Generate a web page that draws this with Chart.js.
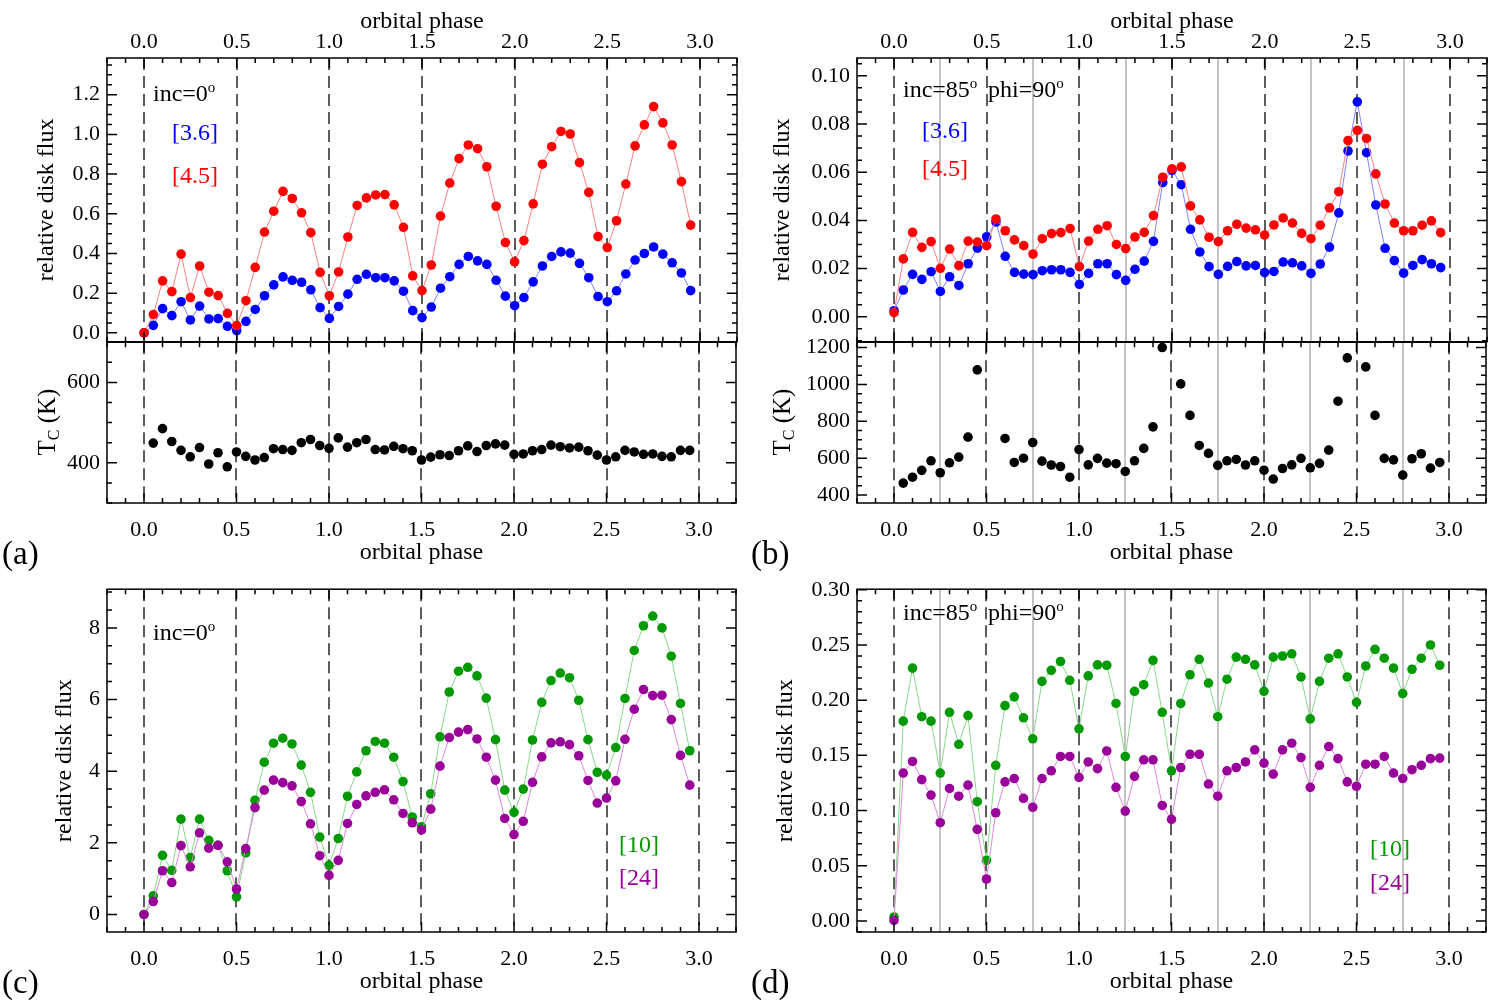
<!DOCTYPE html>
<html>
<head>
<meta charset="utf-8">
<script src="https://cdn.jsdelivr.net/npm/chart.js@4.4.1/dist/chart.umd.min.js"></script>
<style>
  body { margin: 0; background: #fff; width: 1496px; height: 1000px; position: relative; overflow: hidden;
         font-family: 'Liberation Serif', 'Times New Roman', serif; }
  canvas { position: absolute; z-index: 1; }
  .txt { position: absolute; z-index: 2; font-size: 24px; line-height: 1; white-space: nowrap; transform: translateY(-50%); }
  .tag { position: absolute; z-index: 2; font-size: 33px; line-height: 1; transform: translateY(-50%); }
  .rot { position: absolute; z-index: 2; font-size: 25px; line-height: 1; white-space: nowrap; transform: translate(-50%, -50%) rotate(-90deg); }
  .sup { font-size: 15px; position: relative; top: -9px; }
  .sub { font-size: 16px; position: relative; top: 4px; }
</style>
</head>
<body>
<div class="txt" style="left:153px;top:93px">inc=0<span class="sup">o</span></div>
<div class="txt" style="left:172px;top:132px;color:#0000ff">[3.6]</div>
<div class="txt" style="left:172px;top:175px;color:#ff0000">[4.5]</div>
<div class="txt" style="left:903px;top:89px">inc=85<span class="sup">o</span></div>
<div class="txt" style="left:988px;top:89px">phi=90<span class="sup">o</span></div>
<div class="txt" style="left:922px;top:130px;color:#0000ff">[3.6]</div>
<div class="txt" style="left:922px;top:168px;color:#ff0000">[4.5]</div>
<div class="txt" style="left:153px;top:632px">inc=0<span class="sup">o</span></div>
<div class="txt" style="left:619px;top:844px;color:#009900">[10]</div>
<div class="txt" style="left:619px;top:877px;color:#990099">[24]</div>
<div class="txt" style="left:903px;top:612px">inc=85<span class="sup">o</span></div>
<div class="txt" style="left:988px;top:612px">phi=90<span class="sup">o</span></div>
<div class="txt" style="left:1370px;top:848px;color:#009900">[10]</div>
<div class="txt" style="left:1370px;top:882px;color:#990099">[24]</div>
<div class="rot" style="left:46px;top:422px">T<span class="sub">C</span> (K)</div>
<div class="rot" style="left:781px;top:422px">T<span class="sub">C</span> (K)</div>
<div class="tag" style="left:2px;top:553px">(a)</div>
<div class="tag" style="left:751px;top:553px">(b)</div>
<div class="tag" style="left:2px;top:982px">(c)</div>
<div class="tag" style="left:751px;top:982px">(d)</div>
<script>
// orbital phase of every sample
const phase = [0.00, 0.05, 0.10, 0.15, 0.20, 0.25, 0.30, 0.35, 0.40, 0.45,
  0.50, 0.55, 0.60, 0.65, 0.70, 0.75, 0.80, 0.85, 0.90, 0.95,
  1.00, 1.05, 1.10, 1.15, 1.20, 1.25, 1.30, 1.35, 1.40, 1.45,
  1.50, 1.55, 1.60, 1.65, 1.70, 1.75, 1.80, 1.85, 1.90, 1.95,
  2.00, 2.05, 2.10, 2.15, 2.20, 2.25, 2.30, 2.35, 2.40, 2.45,
  2.50, 2.55, 2.60, 2.65, 2.70, 2.75, 2.80, 2.85, 2.90, 2.95];

// reference lines
const halfPhases = [0, 0.5, 1.0, 1.5, 2.0, 2.5, 3.0];
const quarterPhases = [0.25, 0.75, 1.25, 1.75, 2.25, 2.75];

// (a) inc=0
const flux36a = [0.0, 0.038, 0.122, 0.087, 0.157, 0.065, 0.135, 0.07, 0.072, 0.033,
  0.012, 0.058, 0.118, 0.187, 0.242, 0.282, 0.265, 0.255, 0.217, 0.127,
  0.073, 0.133, 0.195, 0.27, 0.295, 0.278, 0.278, 0.262, 0.21, 0.112,
  0.077, 0.13, 0.225, 0.283, 0.345, 0.385, 0.363, 0.345, 0.265, 0.185,
  0.137, 0.178, 0.257, 0.337, 0.385, 0.408, 0.402, 0.35, 0.278, 0.183,
  0.157, 0.212, 0.297, 0.367, 0.4, 0.433, 0.397, 0.353, 0.302, 0.213];
const flux45a = [0.0, 0.092, 0.262, 0.208, 0.397, 0.178, 0.337, 0.205, 0.188, 0.098,
  0.037, 0.162, 0.33, 0.508, 0.613, 0.713, 0.677, 0.605, 0.505, 0.305,
  0.187, 0.307, 0.483, 0.642, 0.68, 0.695, 0.697, 0.645, 0.532, 0.287,
  0.213, 0.342, 0.588, 0.755, 0.878, 0.947, 0.928, 0.837, 0.638, 0.455,
  0.358, 0.465, 0.65, 0.85, 0.938, 1.015, 1.002, 0.858, 0.708, 0.485,
  0.43, 0.565, 0.75, 0.942, 1.048, 1.14, 1.058, 0.947, 0.762, 0.543];
const tempA = [null, 449, 485, 453, 431, 415, 438, 397, 425, 390,
  427, 416, 407, 413, 435, 433, 431, 450, 458, 443,
  436, 462, 439, 450, 458, 433, 432, 441, 435, 430,
  407, 414, 420, 418, 430, 442, 428, 443, 447, 444,
  421, 422, 430, 433, 444, 440, 437, 439, 430, 419,
  407, 415, 431, 427, 421, 422, 416, 415, 431, 431];

// (b) inc=85, phi=90
const flux36b = [0.0025, 0.0111, 0.0176, 0.0155, 0.0187, 0.0105, 0.0166, 0.013, 0.022, 0.0285,
  0.0332, 0.0393, 0.0251, 0.0184, 0.0177, 0.0175, 0.0191, 0.0195, 0.0195, 0.0184,
  0.0134, 0.018, 0.022, 0.022, 0.0175, 0.0151, 0.0197, 0.0231, 0.0313, 0.0557,
  0.0608, 0.0548, 0.0363, 0.0269, 0.0208, 0.0176, 0.0209, 0.0229, 0.0211, 0.0213,
  0.0183, 0.0188, 0.0227, 0.0224, 0.0211, 0.018, 0.0219, 0.0289, 0.0431, 0.0688,
  0.0892, 0.0681, 0.0464, 0.0284, 0.0233, 0.0181, 0.0213, 0.0237, 0.022, 0.0204];
const flux45b = [0.0017, 0.024, 0.035, 0.0288, 0.0312, 0.0201, 0.0281, 0.0212, 0.0314, 0.031,
  0.0295, 0.0406, 0.0357, 0.0319, 0.0295, 0.026, 0.0324, 0.0345, 0.0349, 0.0366,
  0.0208, 0.0314, 0.0363, 0.0378, 0.03, 0.0283, 0.0331, 0.035, 0.042, 0.0579,
  0.0614, 0.0622, 0.046, 0.0402, 0.033, 0.0312, 0.0357, 0.0384, 0.0368, 0.0361,
  0.0339, 0.0381, 0.041, 0.0389, 0.0346, 0.0324, 0.038, 0.0452, 0.0519, 0.0731,
  0.0774, 0.074, 0.0593, 0.0468, 0.0389, 0.0357, 0.0357, 0.038, 0.0398, 0.0349];
const tempB = [null, 465, 497, 534, 586, 521, 575, 606, 714, 1079,
  null, null, 707, 577, 600, 685, 584, 563, 555, 497,
  647, 564, 599, 573, 570, 528, 586, 653, 770, 1200,
  null, 1003, 832, 669, 626, 561, 586, 593, 563, 586,
  535, 487, 544, 564, 599, 548, 572, 644, 909, 1144,
  null, 1095, 832, 599, 591, 508, 597, 624, 546, 577];

// (c) inc=0, long wavelengths
const flux10c = [0, 0.52, 1.65, 1.23, 2.66, 1.59, 2.66, 2.07, 1.93, 1.22,
  0.49, 1.72, 3.19, 4.25, 4.78, 4.92, 4.76, 4.17, 3.41, 2.16,
  1.37, 2.12, 3.30, 3.98, 4.57, 4.83, 4.78, 4.39, 3.71, 2.72,
  2.45, 3.37, 4.96, 6.21, 6.79, 6.90, 6.66, 6.04, 4.88, 3.47,
  2.85, 3.50, 4.87, 5.92, 6.53, 6.74, 6.61, 5.98, 4.88, 3.97,
  3.89, 4.66, 6.03, 7.37, 8.06, 8.33, 8.00, 7.21, 5.89, 4.57];
const flux24c = [0, 0.36, 1.22, 0.89, 1.92, 1.33, 2.28, 1.85, 1.93, 1.47,
  0.71, 1.84, 2.98, 3.47, 3.75, 3.68, 3.59, 3.15, 2.53, 1.64,
  1.09, 1.51, 2.54, 3.07, 3.31, 3.41, 3.48, 3.20, 2.82, 2.56,
  2.36, 2.94, 4.14, 4.94, 5.09, 5.16, 4.90, 4.39, 3.75, 2.68,
  2.23, 2.60, 3.69, 4.40, 4.79, 4.82, 4.74, 4.43, 3.74, 3.11,
  3.25, 3.73, 4.89, 5.73, 6.28, 6.11, 6.12, 5.44, 4.44, 3.61];

// (d) inc=85, phi=90, long wavelengths
const flux10d = [0.0036, 0.181, 0.229, 0.185, 0.181, 0.134, 0.189, 0.160, 0.186, 0.108,
  0.055, 0.141, 0.195, 0.203, 0.184, 0.165, 0.217, 0.227, 0.235, 0.218,
  0.174, 0.222, 0.232, 0.2316, 0.197, 0.149, 0.208, 0.214, 0.236, 0.189,
  0.136, 0.197, 0.223, 0.237, 0.2155, 0.185, 0.219, 0.239, 0.237, 0.232,
  0.208, 0.239, 0.240, 0.242, 0.221, 0.183, 0.217, 0.238, 0.242, 0.221,
  0.198, 0.231, 0.246, 0.238, 0.229, 0.206, 0.228, 0.238, 0.250, 0.2316];
const flux24d = [0.0006, 0.134, 0.1445, 0.128, 0.114, 0.089, 0.120, 0.113, 0.123, 0.083,
  0.038, 0.098, 0.126, 0.129, 0.111, 0.103, 0.129, 0.136, 0.149, 0.149,
  0.130, 0.144, 0.138, 0.154, 0.121, 0.0995, 0.131, 0.146, 0.146, 0.1046,
  0.092, 0.139, 0.151, 0.151, 0.124, 0.113, 0.136, 0.139, 0.144, 0.155,
  0.143, 0.133, 0.155, 0.161, 0.148, 0.121, 0.141, 0.158, 0.147, 0.126,
  0.122, 0.142, 0.142, 0.149, 0.134, 0.129, 0.137, 0.141, 0.147, 0.1475];

Chart.defaults.font.family = "'Liberation Serif', 'Times New Roman', serif";
Chart.defaults.color = '#000';

const isMajor = (v, step) => Math.abs(v / step - Math.round(v / step)) < 1e-6;
const pts = arr => phase.map((p, i) => ({ x: p, y: arr[i] }));

function series(arr, dot, line) {
  return { data: pts(arr), borderColor: line, borderWidth: 1, showLine: true, tension: 0,
    pointRadius: 4.8, pointBackgroundColor: dot, pointBorderColor: dot, pointBorderWidth: 0 };
}
function dots(arr) {
  return { data: pts(arr), showLine: false, pointRadius: 4.8,
    pointBackgroundColor: '#000', pointBorderColor: '#000', pointBorderWidth: 0 };
}

// IDL style box: inward ticks all round, dashed / grey phase markers
const frame = {
  id: 'frame',
  beforeDatasetsDraw(chart, args, o) {
    const { ctx, chartArea: a, scales: { x } } = chart;
    ctx.save();
    ctx.beginPath(); ctx.rect(a.left, a.top, a.width, a.height); ctx.clip();
    const vline = v => {
      const px = Math.round(x.getPixelForValue(v));
      ctx.beginPath(); ctx.moveTo(px, a.top); ctx.lineTo(px, a.bottom); ctx.stroke();
    };
    if (o.quarters) {
      ctx.strokeStyle = '#c4c4c4'; ctx.lineWidth = 2; ctx.setLineDash([]);
      quarterPhases.forEach(vline);
    }
    ctx.strokeStyle = '#5c5c5c'; ctx.lineWidth = 2; ctx.setLineDash([12, 6]);
    halfPhases.forEach(vline);
    ctx.restore();
  },
  afterDatasetsDraw(chart) {
    const { ctx, chartArea: a, scales: { x, y } } = chart;
    ctx.save();
    ctx.strokeStyle = '#000'; ctx.lineWidth = 1.5;
    ctx.beginPath();
    x.ticks.forEach(t => {
      const px = x.getPixelForValue(t.value), len = t.label ? 10 : 5;
      ctx.moveTo(px, a.top); ctx.lineTo(px, a.top + len);
      ctx.moveTo(px, a.bottom); ctx.lineTo(px, a.bottom - len);
    });
    y.ticks.forEach(t => {
      const py = y.getPixelForValue(t.value), len = t.label ? 10 : 5;
      ctx.moveTo(a.left, py); ctx.lineTo(a.left + len, py);
      ctx.moveTo(a.right, py); ctx.lineTo(a.right - len, py);
    });
    ctx.stroke();
    ctx.strokeRect(a.left, a.top, a.width, a.height);
    ctx.restore();
  }
};

function panel(o) {
  const cv = document.createElement('canvas');
  cv.width = 750; cv.height = o.h;
  cv.style.left = o.left + 'px'; cv.style.top = o.top + 'px';
  document.body.appendChild(cv);
  const top = o.xPos === 'top';
  return new Chart(cv, {
    type: 'line',
    data: { datasets: o.sets },
    options: {
      responsive: false, animation: false,
      layout: { padding: { left: 0, right: 13, top: top ? 0 : 20, bottom: top ? 20 : 0 } },
      plugins: { legend: { display: false }, tooltip: { enabled: false }, frame: { quarters: o.quarters } },
      scales: {
        x: {
          type: 'linear', position: o.xPos, min: -0.2, max: 3.2,
          grid: { display: false, drawTicks: false }, border: { display: false },
          ticks: { stepSize: 0.1, autoSkip: false, maxRotation: 0, maxTicksLimit: 1000,
            padding: top ? 3 : 14, font: { size: 22 },
            callback: v => (isMajor(v, 0.5) && v > -1e-6 && v < 3.0001) ? v.toFixed(1) : '' },
          title: { display: true, text: 'orbital phase', font: { size: 24 },
            padding: top ? { top: 7, bottom: 0 } : { top: 0, bottom: 4 } },
          afterFit: s => { s.height = top ? 58 : 68; }
        },
        y: {
          type: 'linear', position: 'left', min: o.yMin, max: o.yMax,
          grid: { display: false, drawTicks: false }, border: { display: false },
          ticks: { stepSize: o.yStep, includeBounds: false, autoSkip: false, maxTicksLimit: 1000,
            padding: 7, font: { size: 22 },
            callback: v => isMajor(v, o.yMajor) ? o.yFmt(v) : '' },
          title: { display: !!o.yTitle, text: o.yTitle || '', font: { size: 24 },
            padding: { top: o.yTitlePad || 0, bottom: 0 } },
          afterFit: s => { s.width = 107; }
        }
      }
    },
    plugins: [frame]
  });
}

// (a)
panel({ left: 0, top: 0, h: 362, xPos: 'top', yMin: -0.045, yMax: 1.385, yStep: 0.05, yMajor: 0.2,
  yFmt: v => v.toFixed(1), yTitle: 'relative disk flux', yTitlePad: 32,
  sets: [series(flux45a, '#ff0000', '#ff8080'), series(flux36a, '#0000ff', '#8080ff')] });
panel({ left: 0, top: 322, h: 249, xPos: 'bottom', yMin: 300, yMax: 700, yStep: 50, yMajor: 200,
  yFmt: v => v.toFixed(0), sets: [dots(tempA)] });

// (b)
panel({ left: 750, top: 0, h: 362, xPos: 'top', quarters: true, yMin: -0.0104, yMax: 0.1074, yStep: 0.005, yMajor: 0.02,
  yFmt: v => v.toFixed(2), yTitle: 'relative disk flux', yTitlePad: 18,
  sets: [series(flux45b, '#ff0000', '#ff8080'), series(flux36b, '#0000ff', '#8080ff')] });
panel({ left: 750, top: 322, h: 249, xPos: 'bottom', quarters: true, yMin: 357, yMax: 1229, yStep: 50, yMajor: 200,
  yFmt: v => v.toFixed(0), sets: [dots(tempB)] });

// (c)
panel({ left: 0, top: 569, h: 431, xPos: 'bottom', yMin: -0.49, yMax: 9.08, yStep: 0.5, yMajor: 2,
  yFmt: v => v.toFixed(0), yTitle: 'relative disk flux', yTitlePad: 50,
  sets: [series(flux24c, '#990099', '#dd88dd'), series(flux10c, '#009900', '#88d888')] });

// (d)
panel({ left: 750, top: 569, h: 431, xPos: 'bottom', quarters: true, yMin: -0.01, yMax: 0.3005, yStep: 0.01, yMajor: 0.05,
  yFmt: v => v.toFixed(2), yTitle: 'relative disk flux', yTitlePad: 21,
  sets: [series(flux24d, '#990099', '#dd88dd'), series(flux10d, '#009900', '#88d888')] });
</script>
</body>
</html>
